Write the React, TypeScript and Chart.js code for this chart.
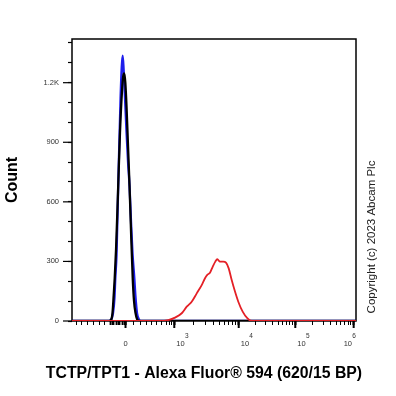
import React, { useEffect, useRef } from 'react';
import { Chart, registerables } from 'chart.js';

Chart.register(...registerables);

// ---- Data (x in biexponential display units: 0 = value 0, ~1 unit per decade) ----
const blueX = [-0.275, -0.242, -0.208, -0.183, -0.17, -0.15, -0.12, -0.083, -0.063, -0.047, -0.03, -0.008, 0.017, 0.042, 0.067, 0.092, 0.117, 0.147, 0.167, 0.192, 0.225, 0.258];
const blueY = [0, 5, 40, 120, 216, 330, 700, 1120, 1280, 1336, 1260, 1120, 950, 800, 680, 500, 340, 216, 120, 40, 8, 0];

const blackX = [-0.275, -0.242, -0.217, -0.197, -0.18, -0.158, -0.125, -0.092, -0.058, -0.037, -0.02, -0.003, 0.017, 0.042, 0.067, 0.092, 0.12, 0.142, 0.167, 0.192, 0.225];
const blackY = [0, 5, 40, 130, 216, 360, 650, 950, 1160, 1235, 1247, 1200, 1080, 880, 680, 450, 216, 100, 40, 10, 0];

const redX = [0.575, 0.713, 0.825, 0.937, 1.02, 1.103, 1.187, 1.27, 1.325, 1.363, 1.408, 1.453, 1.497, 1.53, 1.575, 1.63, 1.675, 1.72, 1.77, 1.825, 1.88, 1.953, 2.03, 2.103];
const redY = [0, 5, 17, 39, 72, 97, 139, 181, 215, 232, 243, 273, 299, 311, 299, 299, 294, 265, 206, 148, 97, 47, 14, 0];

// ---- Axes ----
const xMin = -0.892;
const xMax = 3.842;
const yMin = 0;
const yMax = 1420;

const xMajorTicks = [0, 0.813, 1.887, 2.83, 3.803];
const xMajorBase = ['0', '10', '10', '10', '10'];
const xMajorExp = ['', '3', '4', '5', '6'];
const xLinearMinorTicks = [-0.825, -0.73, -0.637, -0.537, -0.437, -0.342, 0.13, 0.242, 0.342, 0.437, 0.52, 0.603, 0.675, 0.73, 0.77];
const xClusterTicks = [-0.258, -0.225, -0.192, -0.158, -0.125, -0.092, -0.058, -0.025, 0.008];

const yTickValues = [0, 100, 200, 300, 400, 500, 600, 700, 800, 900, 1000, 1100, 1200, 1300, 1400];
const yLabelValues = [0, 300, 600, 900, 1200];
const yLabelTexts = ['0', '300', '600', '900', '1.2K'];

const xTitle = 'TCTP/TPT1 - Alexa Fluor® 594 (620/15 BP)';
const yTitle = 'Count';
const copyright = 'Copyright (c) 2023 Abcam Plc';

const FONT = 'Arial, "Liberation Sans", sans-serif';

function decadeMinorTicks(): number[] {
  const out: number[] = [];
  for (let k = 1; k < xMajorTicks.length - 1; k++) {
    const a = xMajorTicks[k];
    const b = xMajorTicks[k + 1];
    for (let m = 2; m <= 9; m++) out.push(a + Math.log10(m) * (b - a));
  }
  return out;
}

const allXTicks = [...xMajorTicks, ...xLinearMinorTicks, ...xClusterTicks, ...decadeMinorTicks()].sort((a, b) => a - b);

function withBaseline(xs: number[], ys: number[]) {
  const pts = xs.map((x, i) => ({ x, y: ys[i] }));
  return [{ x: xMin, y: 0 }, ...pts, { x: xMax, y: 0 }];
}

const decorPlugin = {
  id: 'decor',
  beforeDatasetsDraw(chart: any) {
    const { ctx, chartArea: a, scales } = chart;
    const xs = scales.x;
    const ys = scales.y;
    ctx.save();
    ctx.strokeStyle = '#000';
    ctx.lineWidth = 1.5;
    ctx.strokeRect(a.left, a.top, a.right - a.left, a.bottom - a.top);
    // major tick extensions
    ctx.lineWidth = 2;
    xMajorTicks.forEach((v) => {
      const p = xs.getPixelForValue(v);
      ctx.beginPath();
      ctx.moveTo(p, a.bottom);
      ctx.lineTo(p, a.bottom + 7);
      ctx.stroke();
    });
    ctx.lineWidth = 1.2;
    yLabelValues.forEach((v) => {
      const p = ys.getPixelForValue(v);
      ctx.beginPath();
      ctx.moveTo(a.left - 9, p);
      ctx.lineTo(a.left, p);
      ctx.stroke();
    });
    // x tick labels with superscripts
    ctx.fillStyle = '#333';
    ctx.textBaseline = 'middle';
    const baseY = a.bottom + 22.5;
    const supY = a.bottom + 15.5;
    xMajorTicks.forEach((v, i) => {
      const p = xs.getPixelForValue(v);
      ctx.font = `7.5px ${FONT}`;
      const base = xMajorBase[i];
      const exp = xMajorExp[i];
      if (!exp) {
        ctx.textAlign = 'center';
        ctx.fillText(base, p, baseY);
        return;
      }
      const wb = ctx.measureText(base).width;
      ctx.font = `6.5px ${FONT}`;
      const we = ctx.measureText(exp).width;
      const last = i === xMajorTicks.length - 1;
      const start = last ? p + 2.5 - (wb + we + 0.5) : p + 2;
      ctx.textAlign = 'left';
      ctx.font = `7.5px ${FONT}`;
      ctx.fillText(base, start, baseY);
      ctx.font = `6.5px ${FONT}`;
      ctx.fillText(exp, start + wb + 0.3, supY);
    });
    ctx.restore();
  },
  afterDraw(chart: any) {
    const { ctx } = chart;
    ctx.save();
    ctx.fillStyle = '#000';
    ctx.textAlign = 'center';
    ctx.textBaseline = 'middle';
    ctx.font = `bold 15.8px ${FONT}`;
    ctx.fillText(xTitle, 204, 374);
    ctx.translate(372, 237);
    ctx.rotate(-Math.PI / 2);
    ctx.font = `11.5px ${FONT}`;
    ctx.fillStyle = '#222';
    ctx.fillText(copyright, 0, 0);
    ctx.restore();
  },
};

export default function App() {
  const canvasRef = useRef<HTMLCanvasElement | null>(null);

  useEffect(() => {
    const canvas = canvasRef.current;
    if (!canvas) return;
    const chart = new Chart(canvas, {
      type: 'line',
      data: {
        datasets: [
          {
            label: 'TCTP/TPT1',
            data: withBaseline(redX, redY),
            borderColor: 'rgb(228, 32, 38)',
            borderWidth: 1.8,
            pointRadius: 0,
            cubicInterpolationMode: 'monotone',
            fill: false,
          },
          {
            label: 'Unlabelled',
            data: withBaseline(blackX, blackY),
            borderColor: '#000000',
            borderWidth: 2.3,
            pointRadius: 0,
            cubicInterpolationMode: 'monotone',
            fill: false,
          },
          {
            label: 'Isotype',
            data: withBaseline(blueX, blueY),
            borderColor: 'rgb(30, 30, 235)',
            borderWidth: 2.3,
            pointRadius: 0,
            cubicInterpolationMode: 'monotone',
            fill: false,
          },
        ],
      },
      options: {
        animation: false,
        responsive: false,
        devicePixelRatio: 1,
        parsing: false,
        layout: { padding: { top: 39, right: 40, bottom: 0, left: 0 } },
        plugins: { legend: { display: false }, tooltip: { enabled: false }, title: { display: false } },
        scales: {
          x: {
            type: 'linear',
            min: xMin,
            max: xMax,
            border: { display: false },
            grid: {
              display: true,
              drawOnChartArea: false,
              drawTicks: true,
              tickLength: 4,
              tickColor: '#000',
              tickWidth: (c: any) => {
                const v = c.tick ? c.tick.value : 0;
                if (xMajorTicks.includes(v)) return 2;
                if (xClusterTicks.includes(v)) return 1.8;
                return 1;
              },
            },
            ticks: { display: false, autoSkip: false },
            afterBuildTicks: (scale: any) => {
              scale.ticks = allXTicks.map((v) => ({ value: v }));
            },
            afterFit: (scale: any) => {
              scale.height = 75;
            },
          },
          y: {
            type: 'linear',
            min: yMin,
            max: yMax,
            border: { display: false },
            grid: {
              display: true,
              drawOnChartArea: false,
              drawTicks: true,
              tickLength: 4,
              tickColor: '#000',
              tickWidth: 1.2,
            },
            ticks: {
              autoSkip: false,
              padding: 9,
              color: '#333',
              font: { family: FONT, size: 7.5 },
              callback: (value: any) => {
                const idx = yLabelValues.indexOf(Number(value));
                return idx >= 0 ? yLabelTexts[idx] : '';
              },
            },
            afterBuildTicks: (scale: any) => {
              scale.ticks = yTickValues.map((v) => ({ value: v }));
            },
            afterFit: (scale: any) => {
              scale.width = 72;
            },
            title: {
              display: true,
              text: yTitle,
              color: '#000',
              font: { family: FONT, size: 16, weight: 'bold' },
              padding: { top: 3.4, bottom: 0 },
            },
          },
        },
      },
      plugins: [decorPlugin],
    } as any);
    return () => chart.destroy();
  }, []);

  return (
    <div style={{ position: 'absolute', left: 0, top: 0, width: 396, height: 396, background: '#fff' }}>
      <canvas ref={canvasRef} width={396} height={396} style={{ width: 396, height: 396, display: 'block' }} />
    </div>
  );
}
